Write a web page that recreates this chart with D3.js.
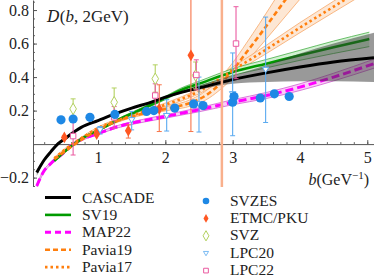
<!DOCTYPE html>
<html><head><meta charset="utf-8">
<script src="https://cdn.jsdelivr.net/npm/d3@7"></script>
<style>
body{margin:0;background:#fff}
svg{display:block}
text{font-family:"Liberation Serif","DejaVu Serif",serif;fill:#222}
</style>
</head><body>
<svg id="c" width="374" height="280"></svg>
<script>
// ---------- theory curves ----------
const cascadeB  = [0.09,0.2,0.3,0.4,0.5,0.75,1.0,1.25,1.5,1.75,2.0,2.25,2.5,3.0,3.5,4.0,4.5,5.1];
const cascadeD  = [-0.17,-0.095,-0.045,0.0,0.03,0.1,0.14,0.18,0.215,0.245,0.28,0.31,0.335,0.385,0.425,0.46,0.49,0.515];
const cascadeLo = [-0.19,-0.102,-0.05,-0.005,0.025,0.095,0.135,0.175,0.21,0.24,0.275,0.303,0.325,0.36,0.37,0.375,0.375,0.37];
const cascadeHi = [-0.15,-0.088,-0.04,0.005,0.035,0.105,0.145,0.185,0.22,0.25,0.285,0.318,0.35,0.41,0.47,0.54,0.6,0.665];

const sv19B  = [0.35,0.5,0.75,1.0,1.3,1.6,2.0,2.22,2.5,3.0,3.5,4.0,4.5,5.03];
const sv19D  = [-0.1,-0.045,0.03,0.082,0.145,0.2,0.275,0.32,0.36,0.43,0.48,0.53,0.578,0.627];
const sv19Lo = [-0.106,-0.051,0.024,0.076,0.138,0.192,0.265,0.308,0.345,0.41,0.455,0.5,0.541,0.582];
const sv19Hi = [-0.094,-0.039,0.036,0.088,0.152,0.208,0.285,0.332,0.375,0.45,0.505,0.56,0.615,0.668];

const map22B  = [0.09,0.19,0.3,0.48,0.63,0.8,1.0,1.3,1.5,2.0,2.5,3.0,3.5,4.0,4.5,5.1];
const map22D  = [-0.25,-0.165,-0.115,-0.055,0.0,0.035,0.063,0.105,0.125,0.165,0.205,0.25,0.29,0.34,0.4,0.48];
const map22Lo = [-0.26,-0.173,-0.122,-0.061,-0.006,0.029,0.057,0.098,0.117,0.155,0.193,0.235,0.272,0.32,0.377,0.453];
const map22Hi = [-0.24,-0.157,-0.108,-0.049,0.006,0.041,0.069,0.112,0.133,0.175,0.217,0.265,0.308,0.36,0.423,0.507];

const p19B  = [0.35,0.5,0.75,1.0,1.3,1.5,2.0,2.4,2.6,2.8,3.0,3.2,3.4,3.6,3.8,4.0];
const p19D  = [-0.09,-0.045,0.025,0.085,0.14,0.165,0.21,0.25,0.29,0.355,0.44,0.545,0.65,0.76,0.87,0.98];
const p19Lo = [-0.096,-0.051,0.019,0.078,0.132,0.157,0.198,0.23,0.263,0.32,0.395,0.49,0.58,0.675,0.77,0.865];
const p19Hi = [-0.084,-0.039,0.031,0.092,0.148,0.173,0.222,0.27,0.317,0.39,0.485,0.6,0.72,0.845,0.97,1.095];

const p17B  = [0.35,0.5,0.75,1.0,1.5,2.0,2.5,3.0,3.5,4.0,4.5,4.9];
const p17D  = [-0.085,-0.035,0.035,0.095,0.17,0.235,0.315,0.44,0.565,0.695,0.82,0.92];
const p17Lo = [-0.091,-0.041,0.029,0.088,0.162,0.225,0.3,0.42,0.54,0.665,0.787,0.884];
const p17Hi = [-0.079,-0.029,0.041,0.102,0.178,0.245,0.33,0.46,0.59,0.725,0.853,0.956];

// ---------- lattice / extracted points ----------
const svzesB = [0.45,0.63,0.88,1.25,1.72,1.83,2.14,2.42,2.56,3.0,3.02,3.41,3.62,3.84];
const svzesD = [0.145,0.15,0.16,0.177,0.195,0.2,0.215,0.24,0.23,0.25,0.284,0.275,0.30,0.284];

const etmcB  = [0.5,0.98,1.45,1.91,2.38];
const etmcD  = [0.04,0.06,0.08,0.21,0.53];
const etmcLo = [0.03,0.05,0.036,0.075,0.075];
const etmcHi = [0.05,0.07,0.115,0.354,1.1];
const etmcWideB  = [2.84];
const etmcWideD  = [1.3];
const etmcWideLo = [-0.3];
const etmcWideHi = [2.9];

const svzB  = [0.63,1.24,1.85,2.45];
const svzD  = [0.21,0.25,0.39,0.41];
const svzLo = [0.15,0.165,0.31,0.33];
const svzHi = [0.27,0.335,0.473,0.49];

const lpc20B  = [1.03,1.5,2.02,2.5,3.0,3.49];
const lpc20D  = [0.085,0.145,0.17,0.24,0.3,0.445];
const lpc20Lo = [0.06,0.085,0.078,0.072,0.05,0.129];
const lpc20Hi = [0.105,0.195,0.265,0.4,0.544,0.758];

const lpc22B  = [0.63,1.24,1.85,2.46,3.05];
const lpc22D  = [0.048,0.16,0.29,0.413,0.6];
const lpc22Lo = [-0.065,0.095,0.22,0.324,0.39];
const lpc22Hi = [0.16,0.224,0.36,0.503,0.82];

const xTicks = [1,2,3,4,5];
const yTicks = [-0.2,0.2,0.4,0.6,0.8];

const lineLegend = ["CASCADE","SV19","MAP22","Pavia19","Pavia17"];
const pointLegend = ["SVZES","ETMC/PKU","SVZ","LPC20","LPC22"];

// ---------- drawing ----------
const svg = d3.select("#c");
const x = d3.scaleLinear().domain([0.034,5.1]).range([33,374]);
const y = d3.scaleLinear().domain([-0.25,0.86]).range([186,0]);

svg.append("defs").append("clipPath").attr("id","pc")
  .append("rect").attr("x",33).attr("y",0).attr("width",341).attr("height",187);

// axes
const xMinor = d3.range(0.2,5.11,0.2);
svg.append("g").attr("transform",`translate(0,${y(0)})`)
  .call(d3.axisBottom(x).tickValues(xMinor).tickSize(-2).tickFormat(""))
  .call(g=>g.select(".domain").remove())
  .call(g=>g.selectAll("line").attr("stroke","#666"));
svg.append("g").attr("transform",`translate(0,${y(0)})`)
  .call(d3.axisBottom(x).tickValues(xTicks).tickSizeInner(-4).tickSizeOuter(0).tickPadding(8).tickFormat(d3.format("d")))
  .call(g=>g.select(".domain").attr("stroke","#555"))
  .call(g=>g.selectAll("line").attr("stroke","#555"))
  .call(g=>g.selectAll("text").attr("font-size",16).attr("font-family","Liberation Serif").attr("fill","#222"));

const yMinor = d3.range(-0.25,0.86,0.05);
svg.append("g").attr("transform",`translate(33,0)`)
  .call(d3.axisLeft(y).tickValues(yMinor).tickSize(-2).tickFormat(""))
  .call(g=>g.select(".domain").remove())
  .call(g=>g.selectAll("line").attr("stroke","#666"));
svg.append("g").attr("transform",`translate(33,0)`)
  .call(d3.axisLeft(y).tickValues(yTicks).tickSizeInner(-4).tickSizeOuter(0).tickPadding(4).tickFormat(d3.format(".1f")))
  .call(g=>g.select(".domain").attr("stroke","#555"))
  .call(g=>g.selectAll("line").attr("stroke","#555"))
  .call(g=>g.selectAll("text").attr("font-size",16).attr("font-family","Liberation Serif").attr("fill","#222"));

const plot = svg.append("g").attr("clip-path","url(#pc)");

function zip(B,D){return B.map((b,i)=>[b,D[i]]);}
function zip3(B,L,H){return B.map((b,i)=>[b,L[i],H[i]]);}
const line = d3.line().x(d=>x(d[0])).y(d=>y(d[1])).curve(d3.curveMonotoneX);
const area = d3.area().x(d=>x(d[0])).y0(d=>y(d[1])).y1(d=>y(d[2])).curve(d3.curveMonotoneX);

function band(B,L,H,fill,edge,op){
  const data = zip3(B,L,H);
  plot.append("path").attr("d",area(data)).attr("fill",fill).attr("fill-opacity",op).attr("stroke","none");
  if(edge){
    plot.append("path").attr("d",line(zip(B,L))).attr("fill","none").attr("stroke",edge).attr("stroke-width",0.8);
    plot.append("path").attr("d",line(zip(B,H))).attr("fill","none").attr("stroke",edge).attr("stroke-width",0.8);
  }
}
function curve(B,D,color,w,dash){
  const p = plot.append("path").attr("d",line(zip(B,D))).attr("fill","none")
    .attr("stroke",color).attr("stroke-width",w);
  if(dash) p.attr("stroke-dasharray",dash);
}

band(p19B,p19Lo,p19Hi,"#fde3cc","#f7a86a",0.85);
band(p17B,p17Lo,p17Hi,"#fde3cc","#f7a86a",0.85);
band(sv19B,sv19Lo,sv19Hi,"#cdeecd","#49b049",0.9);
band(map22B,map22Lo,map22Hi,"#f9c9f6","#d060d0",0.9);

curve(map22B,map22D,"#ff00ff",3,"8,4");
curve(sv19B,sv19D,"#009a00",2.6,null);
curve(p17B,p17D,"#ff7f0e",2.6,"2.5,3");
curve(p19B,p19D,"#ff7f0e",2.6,"5,3");

band(cascadeB,cascadeLo,cascadeHi,"#333333",null,0.5);
curve(cascadeB,cascadeD,"#000",3,null);

// error bars
function errbars(B,D,L,H,color,w){
  const g = plot.append("g");
  B.forEach((b,i)=>{
    g.append("line").attr("x1",x(b)).attr("x2",x(b)).attr("y1",y(L[i])).attr("y2",y(H[i]))
      .attr("stroke",color).attr("stroke-width",w);
    [L[i],H[i]].forEach(v=>g.append("line").attr("x1",x(b)-2.5).attr("x2",x(b)+2.5)
      .attr("y1",y(v)).attr("y2",y(v)).attr("stroke",color).attr("stroke-width",1));
  });
}
errbars(etmcWideB,etmcWideD,etmcWideLo,etmcWideHi,"#f9b08c",2.5);
errbars(svzB,svzD,svzLo,svzHi,"#b3d160",1.1);
errbars(lpc20B,lpc20D,lpc20Lo,lpc20Hi,"#5aaaf0",1.1);
errbars(lpc22B,lpc22D,lpc22Lo,lpc22Hi,"#ea5aa0",1.1);
errbars(etmcB,etmcD,etmcLo,etmcHi,"#f7754a",1.1);

const sym = (type,size)=>d3.symbol().type(type).size(size)();
const triDown = "M-3.2,-2.2L3.2,-2.2L0,3.2Z";

function markers(B,D,path,fill,stroke,sw){
  plot.append("g").selectAll("path").data(B).join("path")
    .attr("transform",(b,i)=>`translate(${x(b)},${y(D[i])})`)
    .attr("d",path).attr("fill",fill).attr("stroke",stroke).attr("stroke-width",sw);
}
markers(svzB,svzD,sym(d3.symbolDiamond,38),"#fff","#b3d160",1);
markers(lpc20B,lpc20D,triDown,"#fff","#5aaaf0",1);
markers(lpc22B,lpc22D,sym(d3.symbolSquare,30),"#fff","#ea5aa0",1);
markers(etmcB,etmcD,sym(d3.symbolDiamond,40),"#ff5722","none",0);
markers(svzesB,svzesD,sym(d3.symbolCircle,66),"#1e88e5","none",0);

// title & axis label
const t = svg.append("text").attr("x",47).attr("y",22).attr("font-size",17);
t.append("tspan").attr("font-style","italic").attr("font-family","DejaVu Serif").attr("font-size",16).text("D");
t.append("tspan").text("(");
t.append("tspan").attr("font-style","italic").text("b");
t.append("tspan").text(", 2GeV)");

const xl = svg.append("text").attr("x",369).attr("y",185).attr("text-anchor","end").attr("font-size",16);
xl.append("tspan").attr("font-style","italic").text("b");
xl.append("tspan").text("(GeV");
xl.append("tspan").attr("font-size",11).attr("dy",-6).text("−1");
xl.append("tspan").attr("dy",6).text(")");

// legend - lines
const lStyles = [["#000",3,null],["#009a00",2.6,null],["#ff00ff",3,"6,4"],["#ff7f0e",2.6,"5,3"],["#ff7f0e",2.6,"2.5,3"]];
lineLegend.forEach((name,i)=>{
  const yy = 197.5 + i*17.4;
  const l = svg.append("line").attr("x1",45).attr("x2",71).attr("y1",yy).attr("y2",yy)
    .attr("stroke",lStyles[i][0]).attr("stroke-width",lStyles[i][1]);
  if(lStyles[i][2]) l.attr("stroke-dasharray",lStyles[i][2]);
  svg.append("text").attr("x",82).attr("y",yy+5).attr("font-size",15.5).text(name);
});
// legend - points
const pStyles = [
  [sym(d3.symbolCircle,34),"#1e88e5","none"],
  [sym(d3.symbolDiamond,22),"#ff5722","none"],
  [sym(d3.symbolDiamond,30),"#fff","#b3d160"],
  [triDown,"#fff","#5aaaf0"],
  [sym(d3.symbolSquare,22),"#fff","#ea5aa0"]
];
pointLegend.forEach((name,i)=>{
  const yy = 201 + i*17.4;
  svg.append("path").attr("transform",`translate(206,${yy})${i===3?" scale(0.8)":""}`)
    .attr("d",pStyles[i][0]).attr("fill",pStyles[i][1]).attr("stroke",pStyles[i][2]).attr("stroke-width",1);
  svg.append("text").attr("x",230).attr("y",yy+4.5).attr("font-size",15.5).text(name);
});
</script>
</body></html>
